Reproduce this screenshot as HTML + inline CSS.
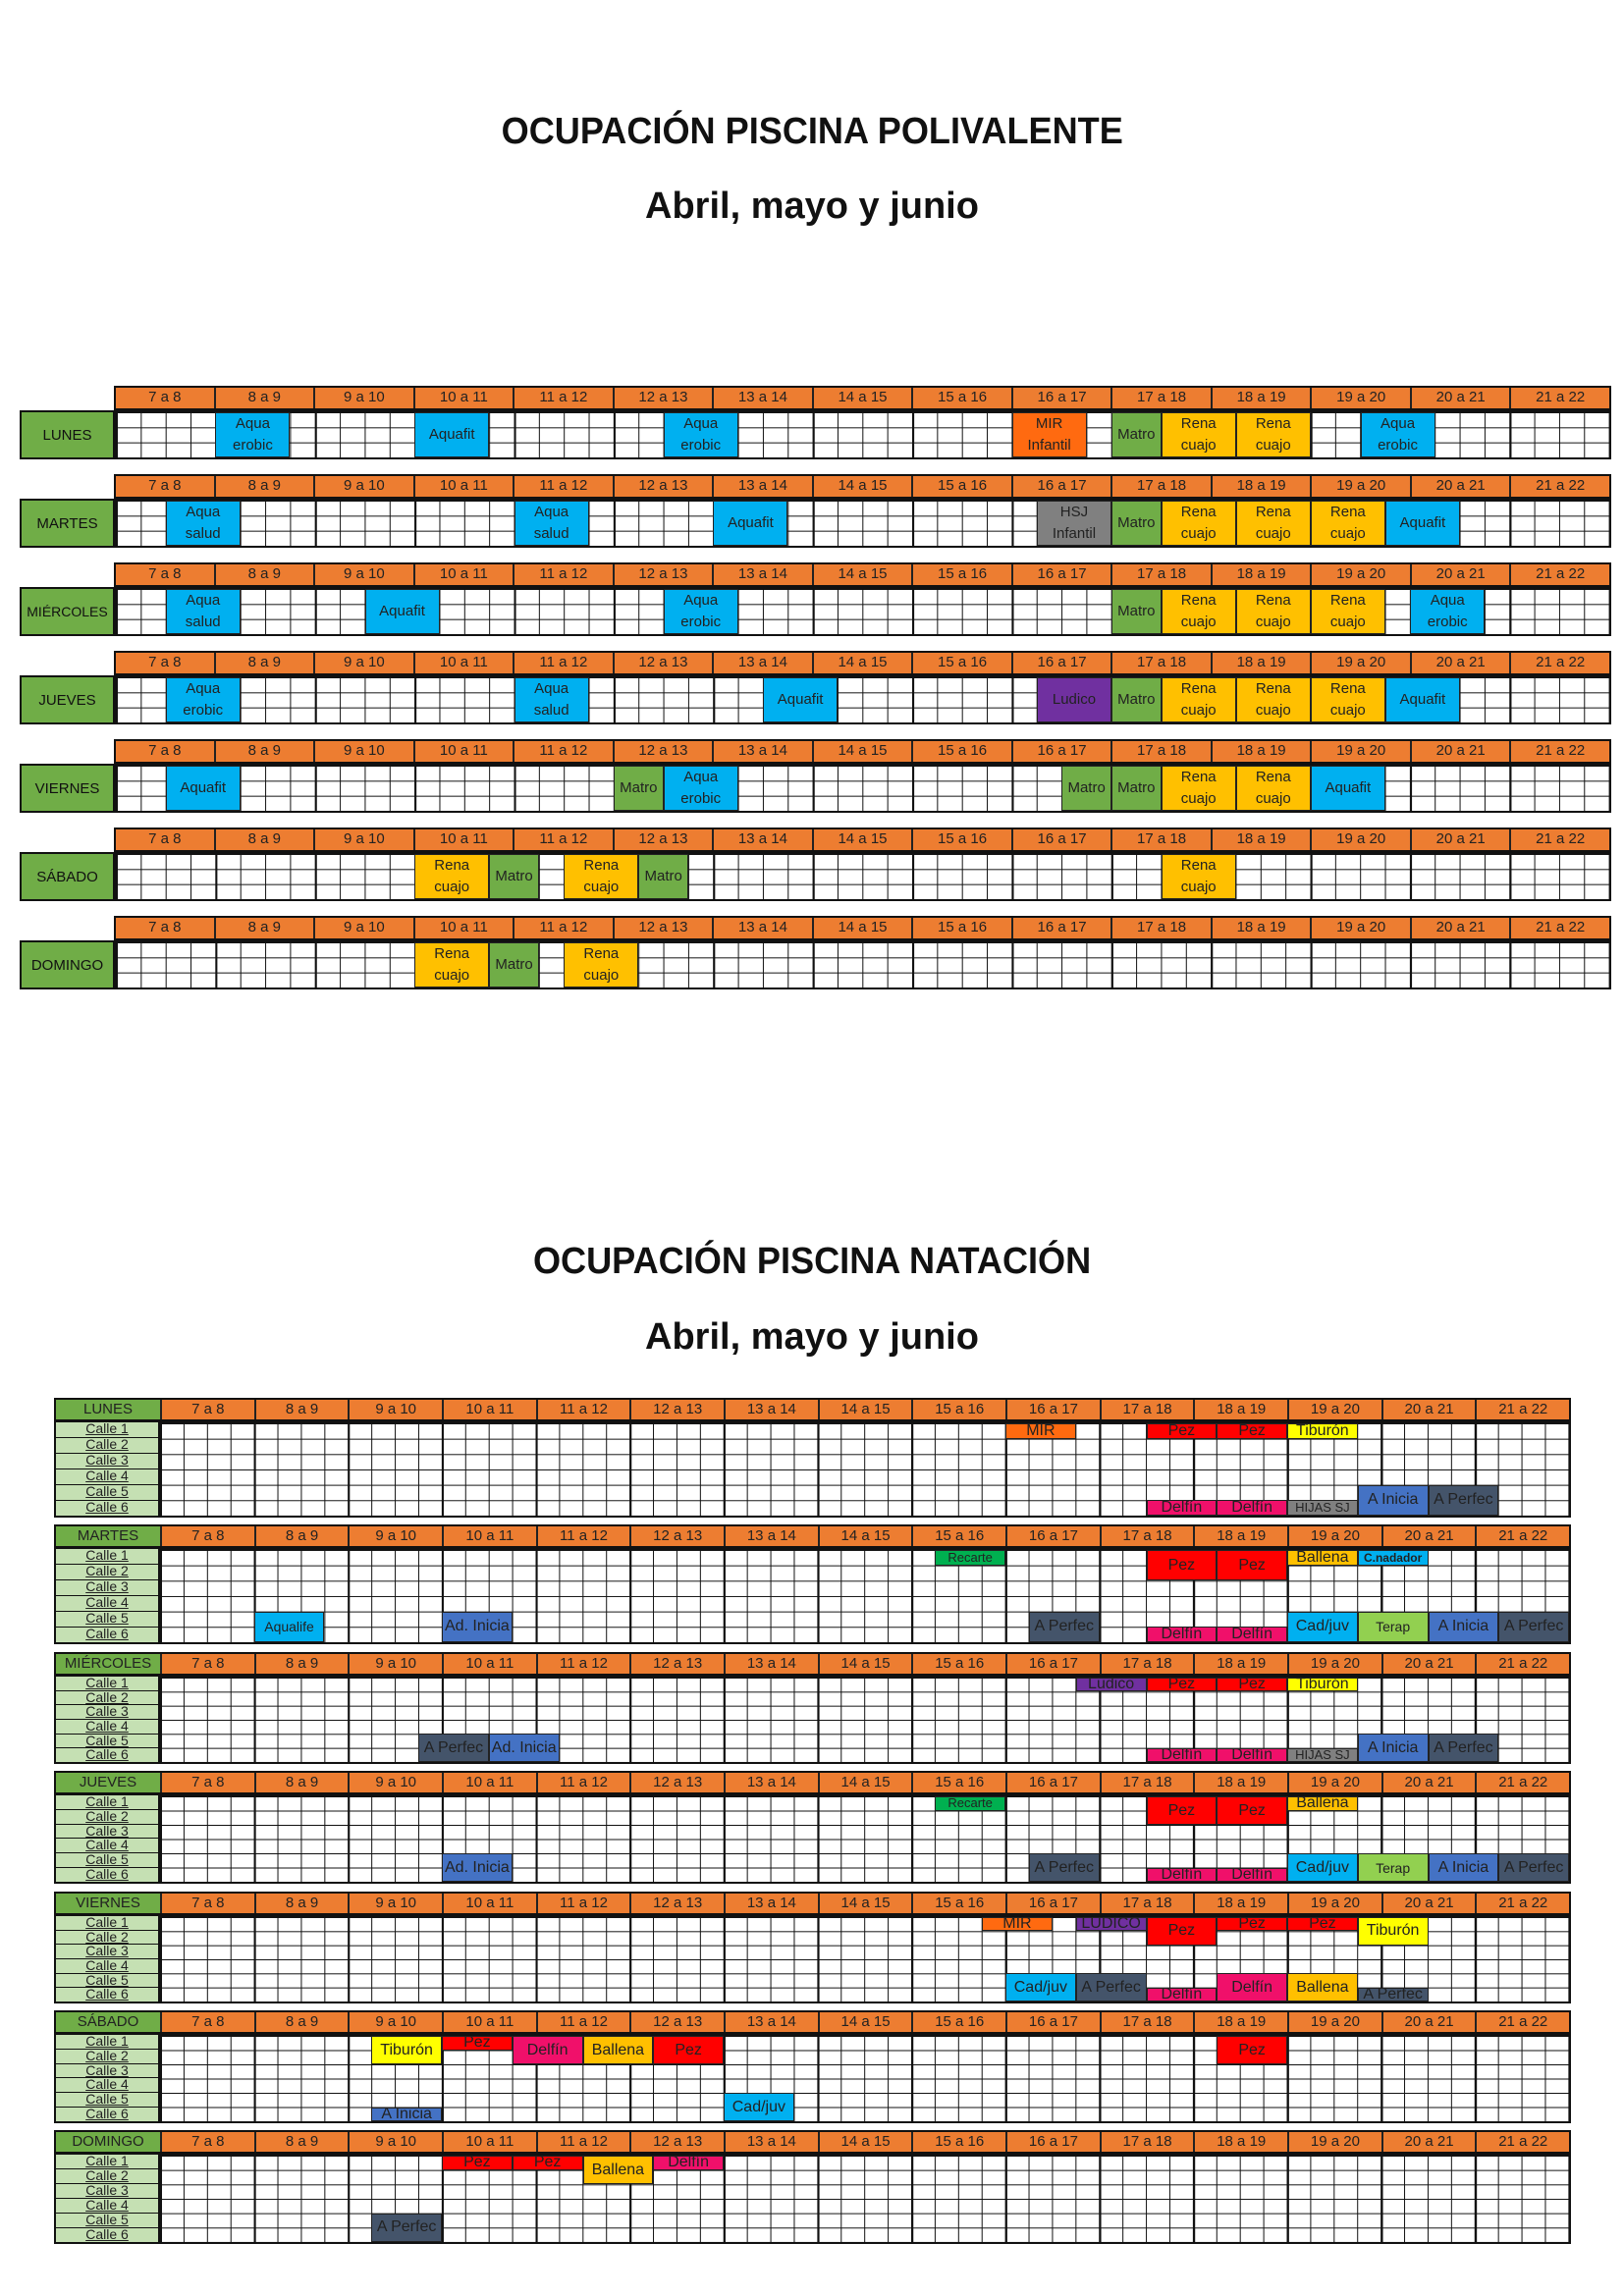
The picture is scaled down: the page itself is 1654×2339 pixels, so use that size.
<!DOCTYPE html>
<html><head><meta charset="utf-8">
<style>
*{box-sizing:border-box;margin:0;padding:0}
body{width:1654px;height:2339px;background:#fff;position:relative;font-family:"Liberation Sans",sans-serif;overflow:hidden}
.t{position:absolute;left:0;width:1654px;text-align:center;font-weight:bold;color:#111}
.t span{display:inline-block;transform:scaleX(.95)}
.t.s span{transform:none}
.hd{position:absolute;display:flex;background:#ED7D31;border:2px solid #111;font-size:15px;color:#222}
.hd span{flex:1;text-align:center;border-left:2px solid #222;line-height:20px}
.hd span:first-child{border-left:none}
.p .hd{left:116px;width:1525px;height:25px}
.bd{position:absolute;border:2px solid #111;background-color:#fff;
background-image:linear-gradient(to right,#111 2px,transparent 2px),linear-gradient(to right,#111 1px,transparent 1px),linear-gradient(to bottom,#111 1px,transparent 1px);}
.p .bd{left:116px;width:1525px;height:50px;background-size:calc(100%/15) 100%,calc(100%/60) 100%,100% calc(100%/3)}
.dl{position:absolute;left:20px;width:97px;height:50px;background:#70AD47;border:2px solid #111;font-size:15px;display:flex;align-items:center;justify-content:center;color:#111}
.e{font-style:normal;position:absolute;top:0;height:100%;left:calc(var(--q)*100%/60);width:calc(var(--n)*100%/60);display:flex;align-items:center;justify-content:center;text-align:center;font-size:15px;line-height:22px;border:1px solid #222;color:#222}
.n .e{top:calc(var(--r)*100%/6);height:calc(var(--h)*100%/6);font-size:16px;line-height:14px;overflow:hidden;white-space:nowrap}
.b{background:#00B0F0}.y{background:#FFC000}.g{background:#70AD47}.o{background:#FF6A10}.gr{background:#808080}.pu{background:#7030A0}
.rd{background:#FF0000}.pk{background:#F0106A}.yl{background:#FFFF00}.dk{background:#44546A}.ai{background:#4472C4}.tg{background:#92D050}.rc{background:#00B050}
.n .hd{left:55px;width:1545px;height:24px}
.n .hd span.dn{flex:0 0 106px;background:#70AD47;border-left:none}
.n .bd{left:161px;width:1439px;background-size:calc(100%/15) 100%,calc(100%/60) 100%,100% calc(100%/6)}
.cl{position:absolute;left:55px;width:108px;border:2px solid #111;border-top:none;display:flex;flex-direction:column}
.cl div{flex:1;background:#C5E0B3;border-top:1px solid #111;text-align:center;font-size:14px;line-height:13px;text-decoration:underline;color:#222}
</style></head><body>

<div class="t" style="top:113px;font-size:38px"><span>OCUPACIÓN PISCINA POLIVALENTE</span></div>
<div class="t s" style="top:189px;font-size:38px"><span>Abril, mayo y junio</span></div>

<div class="p">
<div class="hd" style="top:393px"><span>7 a 8</span><span>8 a 9</span><span>9 a 10</span><span>10 a 11</span><span>11 a 12</span><span>12 a 13</span><span>13 a 14</span><span>14 a 15</span><span>15 a 16</span><span>16 a 17</span><span>17 a 18</span><span>18 a 19</span><span>19 a 20</span><span>20 a 21</span><span>21 a 22</span></div>
<div class="dl" style="top:418px">LUNES</div>
<div class="bd" style="top:418px">
<i class="e b" style="--q:4;--n:3">Aqua<br>erobic</i><i class="e b" style="--q:12;--n:3">Aquafit</i><i class="e b" style="--q:22;--n:3">Aqua<br>erobic</i><i class="e o" style="--q:36;--n:3">MIR<br>Infantil</i><i class="e g" style="--q:40;--n:2">Matro</i><i class="e y" style="--q:42;--n:3">Rena<br>cuajo</i><i class="e y" style="--q:45;--n:3">Rena<br>cuajo</i><i class="e b" style="--q:50;--n:3">Aqua<br>erobic</i>
</div>
<div class="hd" style="top:483px"><span>7 a 8</span><span>8 a 9</span><span>9 a 10</span><span>10 a 11</span><span>11 a 12</span><span>12 a 13</span><span>13 a 14</span><span>14 a 15</span><span>15 a 16</span><span>16 a 17</span><span>17 a 18</span><span>18 a 19</span><span>19 a 20</span><span>20 a 21</span><span>21 a 22</span></div>
<div class="dl" style="top:508px">MARTES</div>
<div class="bd" style="top:508px">
<i class="e b" style="--q:2;--n:3">Aqua<br>salud</i><i class="e b" style="--q:16;--n:3">Aqua<br>salud</i><i class="e b" style="--q:24;--n:3">Aquafit</i><i class="e gr" style="--q:37;--n:3">HSJ<br>Infantil</i><i class="e g" style="--q:40;--n:2">Matro</i><i class="e y" style="--q:42;--n:3">Rena<br>cuajo</i><i class="e y" style="--q:45;--n:3">Rena<br>cuajo</i><i class="e y" style="--q:48;--n:3">Rena<br>cuajo</i><i class="e b" style="--q:51;--n:3">Aquafit</i>
</div>
<div class="hd" style="top:573px"><span>7 a 8</span><span>8 a 9</span><span>9 a 10</span><span>10 a 11</span><span>11 a 12</span><span>12 a 13</span><span>13 a 14</span><span>14 a 15</span><span>15 a 16</span><span>16 a 17</span><span>17 a 18</span><span>18 a 19</span><span>19 a 20</span><span>20 a 21</span><span>21 a 22</span></div>
<div class="dl" style="top:598px;font-size:14px">MIÉRCOLES</div>
<div class="bd" style="top:598px">
<i class="e b" style="--q:2;--n:3">Aqua<br>salud</i><i class="e b" style="--q:10;--n:3">Aquafit</i><i class="e b" style="--q:22;--n:3">Aqua<br>erobic</i><i class="e g" style="--q:40;--n:2">Matro</i><i class="e y" style="--q:42;--n:3">Rena<br>cuajo</i><i class="e y" style="--q:45;--n:3">Rena<br>cuajo</i><i class="e y" style="--q:48;--n:3">Rena<br>cuajo</i><i class="e b" style="--q:52;--n:3">Aqua<br>erobic</i>
</div>
<div class="hd" style="top:663px"><span>7 a 8</span><span>8 a 9</span><span>9 a 10</span><span>10 a 11</span><span>11 a 12</span><span>12 a 13</span><span>13 a 14</span><span>14 a 15</span><span>15 a 16</span><span>16 a 17</span><span>17 a 18</span><span>18 a 19</span><span>19 a 20</span><span>20 a 21</span><span>21 a 22</span></div>
<div class="dl" style="top:688px">JUEVES</div>
<div class="bd" style="top:688px">
<i class="e b" style="--q:2;--n:3">Aqua<br>erobic</i><i class="e b" style="--q:16;--n:3">Aqua<br>salud</i><i class="e b" style="--q:26;--n:3">Aquafit</i><i class="e pu" style="--q:37;--n:3">Ludico</i><i class="e g" style="--q:40;--n:2">Matro</i><i class="e y" style="--q:42;--n:3">Rena<br>cuajo</i><i class="e y" style="--q:45;--n:3">Rena<br>cuajo</i><i class="e y" style="--q:48;--n:3">Rena<br>cuajo</i><i class="e b" style="--q:51;--n:3">Aquafit</i>
</div>
<div class="hd" style="top:753px"><span>7 a 8</span><span>8 a 9</span><span>9 a 10</span><span>10 a 11</span><span>11 a 12</span><span>12 a 13</span><span>13 a 14</span><span>14 a 15</span><span>15 a 16</span><span>16 a 17</span><span>17 a 18</span><span>18 a 19</span><span>19 a 20</span><span>20 a 21</span><span>21 a 22</span></div>
<div class="dl" style="top:778px">VIERNES</div>
<div class="bd" style="top:778px">
<i class="e b" style="--q:2;--n:3">Aquafit</i><i class="e g" style="--q:20;--n:2">Matro</i><i class="e b" style="--q:22;--n:3">Aqua<br>erobic</i><i class="e g" style="--q:38;--n:2">Matro</i><i class="e g" style="--q:40;--n:2">Matro</i><i class="e y" style="--q:42;--n:3">Rena<br>cuajo</i><i class="e y" style="--q:45;--n:3">Rena<br>cuajo</i><i class="e b" style="--q:48;--n:3">Aquafit</i>
</div>
<div class="hd" style="top:843px"><span>7 a 8</span><span>8 a 9</span><span>9 a 10</span><span>10 a 11</span><span>11 a 12</span><span>12 a 13</span><span>13 a 14</span><span>14 a 15</span><span>15 a 16</span><span>16 a 17</span><span>17 a 18</span><span>18 a 19</span><span>19 a 20</span><span>20 a 21</span><span>21 a 22</span></div>
<div class="dl" style="top:868px">SÁBADO</div>
<div class="bd" style="top:868px">
<i class="e y" style="--q:12;--n:3">Rena<br>cuajo</i><i class="e g" style="--q:15;--n:2">Matro</i><i class="e y" style="--q:18;--n:3">Rena<br>cuajo</i><i class="e g" style="--q:21;--n:2">Matro</i><i class="e y" style="--q:42;--n:3">Rena<br>cuajo</i>
</div>
<div class="hd" style="top:933px"><span>7 a 8</span><span>8 a 9</span><span>9 a 10</span><span>10 a 11</span><span>11 a 12</span><span>12 a 13</span><span>13 a 14</span><span>14 a 15</span><span>15 a 16</span><span>16 a 17</span><span>17 a 18</span><span>18 a 19</span><span>19 a 20</span><span>20 a 21</span><span>21 a 22</span></div>
<div class="dl" style="top:958px">DOMINGO</div>
<div class="bd" style="top:958px">
<i class="e y" style="--q:12;--n:3">Rena<br>cuajo</i><i class="e g" style="--q:15;--n:2">Matro</i><i class="e y" style="--q:18;--n:3">Rena<br>cuajo</i>
</div>
</div>

<div class="t" style="top:1264px;font-size:38px"><span>OCUPACIÓN PISCINA NATACIÓN</span></div>
<div class="t s" style="top:1341px;font-size:38px"><span>Abril, mayo y junio</span></div>

<div class="n">
<div class="hd" style="top:1424px"><span class="dn">LUNES</span><span>7 a 8</span><span>8 a 9</span><span>9 a 10</span><span>10 a 11</span><span>11 a 12</span><span>12 a 13</span><span>13 a 14</span><span>14 a 15</span><span>15 a 16</span><span>16 a 17</span><span>17 a 18</span><span>18 a 19</span><span>19 a 20</span><span>20 a 21</span><span>21 a 22</span></div>
<div class="cl" style="top:1448px;height:98px"><div>Calle 1</div><div>Calle 2</div><div>Calle 3</div><div>Calle 4</div><div>Calle 5</div><div>Calle 6</div></div>
<div class="bd" style="top:1448px;height:98px">
<i class="e o" style="--q:36;--n:3;--r:0;--h:1">MIR</i><i class="e rd" style="--q:42;--n:3;--r:0;--h:1">Pez</i><i class="e rd" style="--q:45;--n:3;--r:0;--h:1">Pez</i><i class="e yl" style="--q:48;--n:3;--r:0;--h:1">Tiburón</i>
<i class="e pk" style="--q:42;--n:3;--r:5;--h:1">Delfín</i><i class="e pk" style="--q:45;--n:3;--r:5;--h:1">Delfín</i><i class="e gr" style="--q:48;--n:3;--r:5;--h:1;font-size:13px">HIJAS SJ</i><i class="e ai" style="--q:51;--n:3;--r:4;--h:2">A Inicia</i><i class="e dk" style="--q:54;--n:3;--r:4;--h:2">A Perfec</i>
</div>
<div class="hd" style="top:1553px"><span class="dn">MARTES</span><span>7 a 8</span><span>8 a 9</span><span>9 a 10</span><span>10 a 11</span><span>11 a 12</span><span>12 a 13</span><span>13 a 14</span><span>14 a 15</span><span>15 a 16</span><span>16 a 17</span><span>17 a 18</span><span>18 a 19</span><span>19 a 20</span><span>20 a 21</span><span>21 a 22</span></div>
<div class="cl" style="top:1577px;height:98px"><div>Calle 1</div><div>Calle 2</div><div>Calle 3</div><div>Calle 4</div><div>Calle 5</div><div>Calle 6</div></div>
<div class="bd" style="top:1577px;height:98px">
<i class="e b" style="--q:4;--n:3;--r:4;--h:2;font-size:14px">Aqualife</i><i class="e ai" style="--q:12;--n:3;--r:4;--h:2">Ad. Inicia</i>
<i class="e rc" style="--q:33;--n:3;--r:0;--h:1;font-size:13px">Recarte</i><i class="e dk" style="--q:37;--n:3;--r:4;--h:2">A Perfec</i>
<i class="e rd" style="--q:42;--n:3;--r:0;--h:2">Pez</i><i class="e rd" style="--q:45;--n:3;--r:0;--h:2">Pez</i><i class="e y" style="--q:48;--n:3;--r:0;--h:1">Ballena</i><i class="e b" style="--q:51;--n:3;--r:0;--h:1;font-size:12px;font-weight:bold">C.nadador</i>
<i class="e pk" style="--q:42;--n:3;--r:5;--h:1">Delfín</i><i class="e pk" style="--q:45;--n:3;--r:5;--h:1">Delfín</i><i class="e b" style="--q:48;--n:3;--r:4;--h:2">Cad/juv</i><i class="e tg" style="--q:51;--n:3;--r:4;--h:2;font-size:14px">Terap</i><i class="e ai" style="--q:54;--n:3;--r:4;--h:2">A Inicia</i><i class="e dk" style="--q:57;--n:3;--r:4;--h:2">A Perfec</i>
</div>
<div class="hd" style="top:1683px"><span class="dn">MIÉRCOLES</span><span>7 a 8</span><span>8 a 9</span><span>9 a 10</span><span>10 a 11</span><span>11 a 12</span><span>12 a 13</span><span>13 a 14</span><span>14 a 15</span><span>15 a 16</span><span>16 a 17</span><span>17 a 18</span><span>18 a 19</span><span>19 a 20</span><span>20 a 21</span><span>21 a 22</span></div>
<div class="cl" style="top:1707px;height:90px"><div>Calle 1</div><div>Calle 2</div><div>Calle 3</div><div>Calle 4</div><div>Calle 5</div><div>Calle 6</div></div>
<div class="bd" style="top:1707px;height:90px">
<i class="e dk" style="--q:11;--n:3;--r:4;--h:2">A Perfec</i><i class="e ai" style="--q:14;--n:3;--r:4;--h:2">Ad. Inicia</i>
<i class="e pu" style="--q:39;--n:3;--r:0;--h:1">Ludico</i><i class="e rd" style="--q:42;--n:3;--r:0;--h:1">Pez</i><i class="e rd" style="--q:45;--n:3;--r:0;--h:1">Pez</i><i class="e yl" style="--q:48;--n:3;--r:0;--h:1">Tiburón</i>
<i class="e pk" style="--q:42;--n:3;--r:5;--h:1">Delfín</i><i class="e pk" style="--q:45;--n:3;--r:5;--h:1">Delfín</i><i class="e gr" style="--q:48;--n:3;--r:5;--h:1;font-size:13px">HIJAS SJ</i><i class="e ai" style="--q:51;--n:3;--r:4;--h:2">A Inicia</i><i class="e dk" style="--q:54;--n:3;--r:4;--h:2">A Perfec</i>
</div>
<div class="hd" style="top:1804px"><span class="dn">JUEVES</span><span>7 a 8</span><span>8 a 9</span><span>9 a 10</span><span>10 a 11</span><span>11 a 12</span><span>12 a 13</span><span>13 a 14</span><span>14 a 15</span><span>15 a 16</span><span>16 a 17</span><span>17 a 18</span><span>18 a 19</span><span>19 a 20</span><span>20 a 21</span><span>21 a 22</span></div>
<div class="cl" style="top:1828px;height:91px"><div>Calle 1</div><div>Calle 2</div><div>Calle 3</div><div>Calle 4</div><div>Calle 5</div><div>Calle 6</div></div>
<div class="bd" style="top:1828px;height:91px">
<i class="e ai" style="--q:12;--n:3;--r:4;--h:2">Ad. Inicia</i>
<i class="e rc" style="--q:33;--n:3;--r:0;--h:1;font-size:13px">Recarte</i><i class="e dk" style="--q:37;--n:3;--r:4;--h:2">A Perfec</i>
<i class="e rd" style="--q:42;--n:3;--r:0;--h:2">Pez</i><i class="e rd" style="--q:45;--n:3;--r:0;--h:2">Pez</i><i class="e y" style="--q:48;--n:3;--r:0;--h:1">Ballena</i>
<i class="e pk" style="--q:42;--n:3;--r:5;--h:1">Delfín</i><i class="e pk" style="--q:45;--n:3;--r:5;--h:1">Delfín</i><i class="e b" style="--q:48;--n:3;--r:4;--h:2">Cad/juv</i><i class="e tg" style="--q:51;--n:3;--r:4;--h:2;font-size:14px">Terap</i><i class="e ai" style="--q:54;--n:3;--r:4;--h:2">A Inicia</i><i class="e dk" style="--q:57;--n:3;--r:4;--h:2">A Perfec</i>
</div>
<div class="hd" style="top:1927px"><span class="dn">VIERNES</span><span>7 a 8</span><span>8 a 9</span><span>9 a 10</span><span>10 a 11</span><span>11 a 12</span><span>12 a 13</span><span>13 a 14</span><span>14 a 15</span><span>15 a 16</span><span>16 a 17</span><span>17 a 18</span><span>18 a 19</span><span>19 a 20</span><span>20 a 21</span><span>21 a 22</span></div>
<div class="cl" style="top:1951px;height:90px"><div>Calle 1</div><div>Calle 2</div><div>Calle 3</div><div>Calle 4</div><div>Calle 5</div><div>Calle 6</div></div>
<div class="bd" style="top:1951px;height:90px">
<i class="e o" style="--q:35;--n:3;--r:0;--h:1">MIR</i><i class="e pu" style="--q:39;--n:3;--r:0;--h:1">LUDICO</i><i class="e rd" style="--q:42;--n:3;--r:0;--h:2">Pez</i><i class="e rd" style="--q:45;--n:3;--r:0;--h:1">Pez</i><i class="e rd" style="--q:48;--n:3;--r:0;--h:1">Pez</i><i class="e yl" style="--q:51;--n:3;--r:0;--h:2">Tiburón</i>
<i class="e b" style="--q:36;--n:3;--r:4;--h:2">Cad/juv</i><i class="e dk" style="--q:39;--n:3;--r:4;--h:2">A Perfec</i><i class="e pk" style="--q:42;--n:3;--r:5;--h:1">Delfín</i><i class="e pk" style="--q:45;--n:3;--r:4;--h:2">Delfín</i><i class="e y" style="--q:48;--n:3;--r:4;--h:2">Ballena</i><i class="e dk" style="--q:51;--n:3;--r:5;--h:1">A Perfec</i>
</div>
<div class="hd" style="top:2048px"><span class="dn">SÁBADO</span><span>7 a 8</span><span>8 a 9</span><span>9 a 10</span><span>10 a 11</span><span>11 a 12</span><span>12 a 13</span><span>13 a 14</span><span>14 a 15</span><span>15 a 16</span><span>16 a 17</span><span>17 a 18</span><span>18 a 19</span><span>19 a 20</span><span>20 a 21</span><span>21 a 22</span></div>
<div class="cl" style="top:2072px;height:91px"><div>Calle 1</div><div>Calle 2</div><div>Calle 3</div><div>Calle 4</div><div>Calle 5</div><div>Calle 6</div></div>
<div class="bd" style="top:2072px;height:91px">
<i class="e yl" style="--q:9;--n:3;--r:0;--h:2">Tiburón</i><i class="e rd" style="--q:12;--n:3;--r:0;--h:1">Pez</i><i class="e pk" style="--q:15;--n:3;--r:0;--h:2">Delfín</i><i class="e y" style="--q:18;--n:3;--r:0;--h:2">Ballena</i><i class="e rd" style="--q:21;--n:3;--r:0;--h:2">Pez</i><i class="e rd" style="--q:45;--n:3;--r:0;--h:2">Pez</i>
<i class="e ai" style="--q:9;--n:3;--r:5;--h:1">A Inicia</i><i class="e b" style="--q:24;--n:3;--r:4;--h:2">Cad/juv</i>
</div>
<div class="hd" style="top:2170px"><span class="dn">DOMINGO</span><span>7 a 8</span><span>8 a 9</span><span>9 a 10</span><span>10 a 11</span><span>11 a 12</span><span>12 a 13</span><span>13 a 14</span><span>14 a 15</span><span>15 a 16</span><span>16 a 17</span><span>17 a 18</span><span>18 a 19</span><span>19 a 20</span><span>20 a 21</span><span>21 a 22</span></div>
<div class="cl" style="top:2194px;height:92px"><div>Calle 1</div><div>Calle 2</div><div>Calle 3</div><div>Calle 4</div><div>Calle 5</div><div>Calle 6</div></div>
<div class="bd" style="top:2194px;height:92px">
<i class="e rd" style="--q:12;--n:3;--r:0;--h:1">Pez</i><i class="e rd" style="--q:15;--n:3;--r:0;--h:1">Pez</i><i class="e y" style="--q:18;--n:3;--r:0;--h:2">Ballena</i><i class="e pk" style="--q:21;--n:3;--r:0;--h:1">Delfín</i>
<i class="e dk" style="--q:9;--n:3;--r:4;--h:2">A Perfec</i>
</div>
</div>
</body></html>
